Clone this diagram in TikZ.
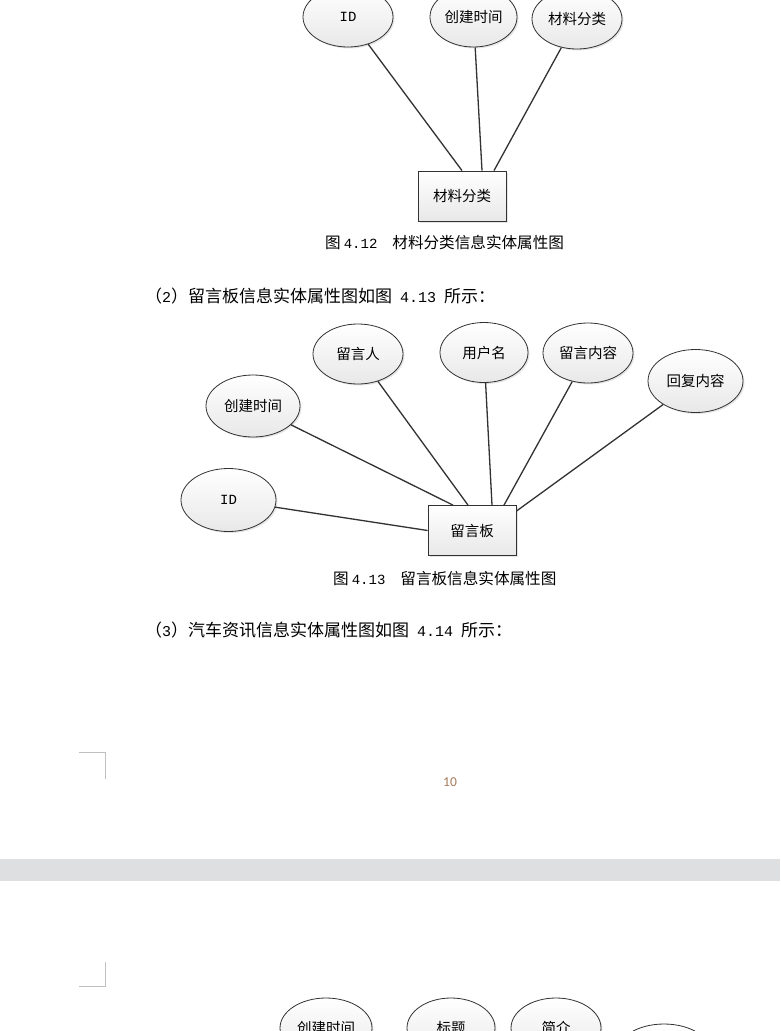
\documentclass[tikz,border=0pt]{standalone}
\usepackage{fontspec}
\setmainfont{Noto Sans CJK SC}
\newfontfamily\numfont{Liberation Mono}
\newfontfamily\pagefont{Carlito}
\usetikzlibrary{shapes.geometric, shadows}

\definecolor{edgegray}{RGB}{50,50,50}
\definecolor{bandgray}{RGB}{222,223,225}
\definecolor{markgray}{RGB}{192,192,192}
\definecolor{pagenum}{RGB}{165,120,90}

\newcommand{\halfw}[1]{{\numfont\fontsize{14}{16}\selectfont #1}}
\newcommand{\parnum}[1]{{\numfont\fontsize{15}{17}\selectfont #1}}

\tikzset{
  attr/.style={ellipse, draw=edgegray, line width=0.8pt, top color=white, bottom color=gray!18,
    minimum width=90pt, minimum height=60pt, inner sep=0pt,
    drop shadow={shadow xshift=1.5pt, shadow yshift=-1.5pt, opacity=0.2},
    font=\fontsize{14.5}{16}\selectfont},
  entity/.style={rectangle, draw=edgegray, line width=0.8pt, top color=white, bottom color=gray!18,
    minimum width=88pt, minimum height=50pt, inner sep=0pt,
    drop shadow={shadow xshift=1.5pt, shadow yshift=-1.5pt, opacity=0.2},
    font=\fontsize{14.5}{16}\selectfont},
  link/.style={draw=edgegray, line width=1.3pt},
  figcap/.style={anchor=west, inner sep=0pt, font=\fontsize{15.6}{17}\selectfont},
  para/.style={anchor=west, inner sep=0pt, font=\fontsize{17}{19}\selectfont}
}

\begin{document}
\begin{tikzpicture}[x=1pt, y=-1pt]
    \useasboundingbox (0,0) rectangle (780,1031);
    \clip (0,0) rectangle (780,1031);
    \fill[white] (0,0) rectangle (780,1031);

    % Fig 4.12
    \node[entity] (cls) at (462,196) {材料分类};
    \node[attr] (id1) at (348,17) {\halfw{ID}};
    \node[attr, minimum width=87pt] (ctime1) at (473.5,17) {创建时间};
    \node[attr] (kind1) at (577,19) {材料分类};
    \draw[link] (id1) -- (cls.north);
    \draw[link] (ctime1) -- ([xshift=20pt]cls.north);
    \draw[link] (kind1) -- ([xshift=32pt]cls.north);
    \node[figcap] (cap1) at (325,243) {图\hspace{3pt}\halfw{4.12}\hspace{15pt}材料分类信息实体属性图};

    \node[para] (par2) at (145,296) {（\parnum{2}）留言板信息实体属性图如图\hspace{8pt}\parnum{4.13}\hspace{8pt}所示：};

    % Fig 4.13
    \node[entity] (board) at (472,530.5) {留言板};
    \node[attr, minimum width=95pt, minimum height=63pt] (id2) at (228.5,500) {\halfw{ID}};
    \node[attr, minimum width=94pt, minimum height=62pt] (ctime2) at (253,406) {创建时间};
    \node[attr] (author) at (358,354) {留言人};
    \node[attr, minimum width=88pt] (user) at (484,352.5) {用户名};
    \node[attr] (content) at (588,353) {留言内容};
    \node[attr, minimum width=95pt, minimum height=63pt] (reply) at (695.5,381) {回复内容};
    \draw[link] (id2) -- (board.west);
    \draw[link] (ctime2) -- ([xshift=-19pt]board.north);
    \draw[link] (author) -- ([xshift=-4pt]board.north);
    \draw[link] (user) -- ([xshift=20pt]board.north);
    \draw[link] (content) -- ([xshift=32pt]board.north);
    \draw[link] (reply) -- ([yshift=-6pt]board.north east);
    \node[figcap] (cap2) at (333,579) {图\hspace{3pt}\halfw{4.13}\hspace{15pt}留言板信息实体属性图};

    \node[para] (par3) at (145,630) {（\parnum{3}）汽车资讯信息实体属性图如图\hspace{8pt}\parnum{4.14}\hspace{8pt}所示：};

    % page break
    \draw[markgray, line width=1pt] (79,752) -- (105.5,752) -- (105.5,779);
    \node[font=\pagefont\fontsize{13.5}{15}\selectfont, text=pagenum] (pnum) at (450,782) {10};
    \fill[bandgray] (0,859) rectangle (780,881);
    \draw[markgray, line width=1pt] (105.5,962) -- (105.5,986) -- (79,986);

    % next figure, cut off
    \node[attr, minimum width=92pt] (ctime3) at (326,1028) {创建时间};
    \node[attr, minimum width=88pt] (title3) at (451,1028) {标题};
    \node[attr] (intro3) at (556,1028) {简介};
    \node[attr, minimum width=96pt] (more3) at (664,1054) {};
\end{tikzpicture}
\end{document}
